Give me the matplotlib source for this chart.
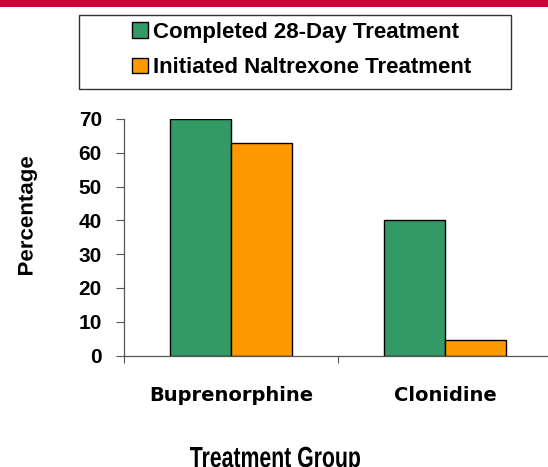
import matplotlib
matplotlib.use('Agg')
import matplotlib.pyplot as plt
from matplotlib.patches import Rectangle, Patch, PathPatch
from matplotlib.textpath import TextPath
from matplotlib.font_manager import FontProperties
from matplotlib.transforms import Affine2D
import numpy as np

W, H = 548, 467

groups = ['Buprenorphine', 'Clonidine']
completed = [70, 40]
initiated = [63, 4.6]
series_names = ['Completed 28-Day Treatment', 'Initiated Naltrexone Treatment']
yticks = [0, 10, 20, 30, 40, 50, 60, 70]

GREEN = '#339966'
ORANGE = '#FF9900'

plt.rcParams['font.family'] = ['Liberation Sans', 'DejaVu Sans']

fig = plt.figure(figsize=(W / 100, H / 100), dpi=100)
BOLD = FontProperties(family='Liberation Sans', weight='bold')


def narrow_text(s, x0, x1, y_top, y_base):
    # condensed-looking label: text path squeezed horizontally, pixel coords (y down)
    tp = TextPath((0, 0), s, size=20, prop=BOLD)
    ext = tp.get_extents()
    cap = TextPath((0, 0), 'T', size=20, prop=BOLD).get_extents().height
    tr = (Affine2D().translate(-ext.x0, 0)
          .scale((x1 - x0) / ext.width, (y_base - y_top) / cap)
          .translate(x0, H - y_base))
    fig.add_artist(PathPatch(tp, transform=tr, facecolor='black',
                             edgecolor='none', lw=0))


def narrow_vtext(s, x0, x1, y0, y1):
    # rotated version, fitted into the box x0..x1, y0..y1 (pixel coords, y down)
    tp = TextPath((0, 0), s, size=20, prop=BOLD)
    ext = tp.get_extents()
    tr = (Affine2D().translate(-ext.x0, -ext.y0)
          .scale(1 / ext.width, 1 / ext.height)
          .rotate_deg(90).translate(1, 0)
          .scale(x1 - x0, y1 - y0).translate(x0, H - y1))
    fig.add_artist(PathPatch(tp, transform=tr, facecolor='black',
                             edgecolor='none', lw=0))


# red band at the top (slide header)
fig.patches.append(Rectangle((0, 1 - 7 / H), 1, 7 / H, transform=fig.transFigure,
                             facecolor='#cf0038', edgecolor='none'))

ax = fig.add_axes([124 / W, 1 - 355.5 / H, 428 / W, 236.5 / H])
x = np.arange(len(groups))
bw = 0.285
ax.bar(x - bw / 2, completed, bw, color=GREEN, edgecolor='black', linewidth=1)
ax.bar(x + bw / 2, initiated, bw, color=ORANGE, edgecolor='black', linewidth=1)

ax.set_xlim(-0.5, 1.5)
ax.set_ylim(0, 70)
ax.set_yticks(yticks)
ax.set_yticklabels([str(t) for t in yticks], fontsize=15, fontweight='bold')
ax.tick_params(axis='y', length=6, width=0.8, color='#555555', pad=10)

ax.set_xticks(x)
ax.set_xticklabels(groups, fontsize=14, fontweight='bold', family='DejaVu Sans')
ax.tick_params(axis='x', which='major', length=0, pad=22)
ax.set_xticks([-0.5, 0.5, 1.5], minor=True)
ax.tick_params(axis='x', which='minor', length=5, width=0.8, color='#555555')

for s in ['top', 'right']:
    ax.spines[s].set_visible(False)
for s in ['left', 'bottom']:
    ax.spines[s].set_color('#555555')
    ax.spines[s].set_linewidth(0.9)

narrow_text('Treatment Group', 190, 360, 447, 467)
narrow_vtext('Percentage', 18, 37, 157, 275)

# legend box
fig.patches.append(Rectangle((79 / W, 1 - 89 / H), 432 / W, 74 / H,
                             transform=fig.transFigure, facecolor='white',
                             edgecolor='#333333', linewidth=1))
handles = [Patch(facecolor=GREEN, edgecolor='black'),
           Patch(facecolor=ORANGE, edgecolor='black')]
fig.legend(handles, series_names, loc='center left',
           bbox_to_anchor=(132 / W, 1 - 50 / H), frameon=False,
           borderpad=0, borderaxespad=0,
           prop={'size': 16, 'weight': 'bold'}, handlelength=0.7,
           handleheight=0.7, handletextpad=0.25, labelspacing=0.65)

fig.savefig('out.png', dpi=100)
